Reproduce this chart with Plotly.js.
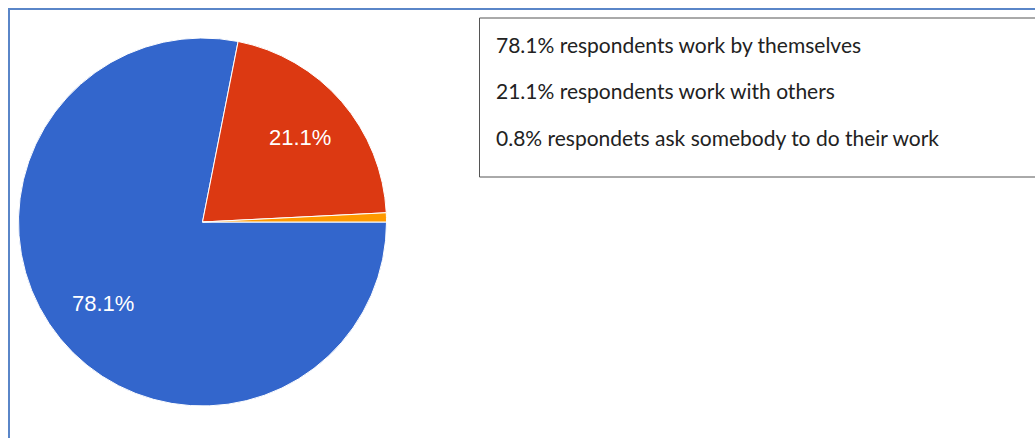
<!DOCTYPE html>
<html>
<head>
<meta charset="utf-8">
<script src="https://cdn.plot.ly/plotly-3.0.1.min.js"></script>
<style>
html,body{margin:0;padding:0;background:#fff;}
#chart{width:1035px;height:438px;}
</style>
</head>
<body>
<div id="chart"></div>
<script>
var categories = ["respondents work by themselves", "respondents work with others", "respondets ask somebody to do their work"];
var values = [78.1, 21.1, 0.8];
var sliceColors = ["#3366cc", "#dc3912", "#ff9900"];
var sliceLabels = ["78.1%", "21.1%", ""];

var W = 1035, H = 438;
function px(x){ return x / W; }
function py(y){ return 1 - y / H; }

// pie geometry (pixels)
var cx = 202.5, cy = 222, R = 184;
var startDeg = 90; // first slice starts at 3 o'clock, goes clockwise

var trace = {
  type: "pie",
  labels: categories,
  values: values,
  textinfo: "none",
  sort: false,
  direction: "clockwise",
  rotation: startDeg,
  marker: { colors: sliceColors, line: { color: "#ffffff", width: 1 } },
  domain: { x: [px(cx - R), px(cx + R)], y: [py(cy + R), py(cy - R)] },
  showlegend: false,
  hoverinfo: "label+percent"
};

// slice labels placed at the mid-angle of each slice, 0.7 of the radius
var total = values.reduce(function(a, b){ return a + b; }, 0);
var sliceAnnots = [];
var acc = 0;
values.forEach(function(v, i){
  var mid = startDeg + (acc + v / 2) / total * 360;
  acc += v;
  if (!sliceLabels[i]) return;
  var a = mid * Math.PI / 180;
  sliceAnnots.push({
    xref: "paper", yref: "paper",
    x: px(cx + 0.7 * R * Math.sin(a)),
    y: py(cy - 0.7 * R * Math.cos(a)),
    xanchor: "center", yanchor: "middle",
    text: sliceLabels[i],
    showarrow: false,
    font: { family: "Liberation Sans, Arial, sans-serif", size: 22, color: "#ffffff" }
  });
});

var legendAnnots = categories.map(function(c, i){
  return {
    xref: "paper", yref: "paper",
    x: px(494), y: py(44 + i * 46.5),
    xanchor: "left", yanchor: "middle",
    text: values[i].toFixed(1) + "% " + c,
    showarrow: false,
    font: { family: "Lato, Open Sans, sans-serif", size: 21, color: "#222222" }
  };
});

var layout = {
  width: W, height: H,
  margin: { l: 0, r: 0, t: 0, b: 0 },
  paper_bgcolor: "#ffffff",
  plot_bgcolor: "#ffffff",
  showlegend: false,
  shapes: [
    { type: "rect", xref: "paper", yref: "paper",
      x0: px(9), x1: px(1045), y0: py(448), y1: py(9),
      line: { color: "#5a86c8", width: 2 }, fillcolor: "rgba(0,0,0,0)" },
    { type: "rect", xref: "paper", yref: "paper",
      x0: px(479.5), x1: px(1045), y0: py(177), y1: py(18),
      line: { color: "#555555", width: 1 }, fillcolor: "rgba(0,0,0,0)" }
  ],
  annotations: sliceAnnots.concat(legendAnnots)
};

Plotly.newPlot("chart", [trace], layout, { displayModeBar: false, staticPlot: true });
</script>
</body>
</html>
